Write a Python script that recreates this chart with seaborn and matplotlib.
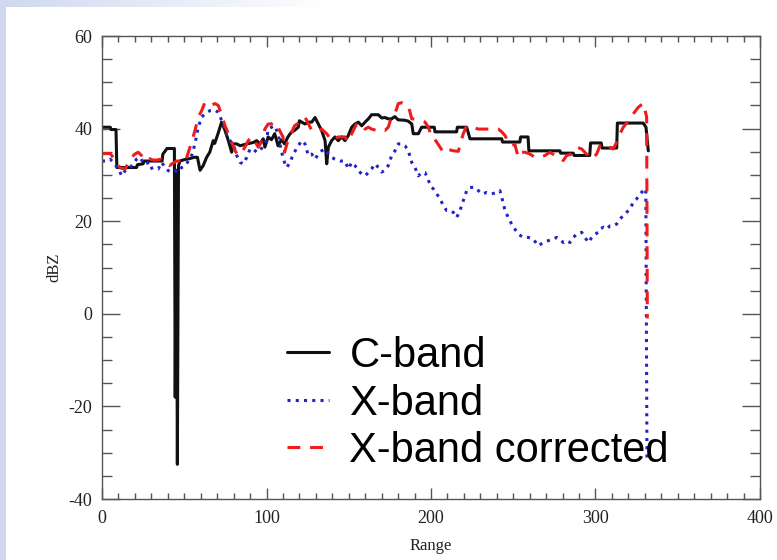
import numpy as np
import pandas as pd
import seaborn as sns
import matplotlib.pyplot as plt
from matplotlib.patches import Rectangle
from matplotlib.colors import LinearSegmentedColormap
from matplotlib.ticker import MultipleLocator

# values (range, dBZ)
c_range = [0, 5, 5.5, 8.5, 9, 21, 21.5, 25, 25.5, 36.5, 37, 39.5, 44, 44.5, 45.2, 45.8, 46.5, 47.4,
           50, 53, 56, 58, 59.6, 61.5, 63.6, 65.5, 67.6, 68.5, 70.5, 72.7, 74.8, 76.8, 78.8, 79.5,
           81.9, 84, 88, 92, 94, 96, 98, 99, 101, 103, 105, 107, 109, 111, 113, 115, 117, 119.3,
           120, 121.4, 123.4, 125.4, 127.5, 129.5, 131.5, 133.5, 135.6, 136.6, 137.6, 139.6, 141.6,
           143.6, 145.7, 147.7, 149.7, 151.8, 153.8, 155.8, 157.9, 159.9, 161.9, 163.9, 168, 170,
           172, 174, 176, 178, 180, 184.2, 186.2, 188.3, 189.2, 192.3, 194.3, 202, 202.4, 215.6,
           216, 221.7, 223.7, 243, 243.5, 254, 254.5, 259, 259.5, 278.4, 278.8, 286.5, 287, 296.5,
           297, 303.5, 304, 312.9, 313.3, 329, 330.7, 332.1]
c_dbz = [40.3, 40.3, 39.8, 39.8, 31.6, 31.6, 32.2, 32.4, 33, 33, 34.5, 35.7, 35.7, -18, 31, -32.5, 32, 33,
         33.3, 33.5, 33.8, 33.8, 31, 32, 33.8, 34.9, 37.4, 36.8, 38.9, 41.4, 39.6, 37.4, 34.9, 36.7,
         36.7, 36.3, 36.7, 37, 37.4, 36.7, 37.8, 36, 38.2, 37.6, 38.9, 36.3, 37.6, 36.7, 38.2, 39.2, 39.6, 40.3,
         41.7, 41.4, 41, 41.4, 41.4, 42.4, 41, 39.6, 37.4, 32.4, 36, 37.4, 38.2,
         37.4, 38.2, 37.4, 38.5, 40.3, 41, 41.4, 40.6, 41.4, 42.1, 43, 43, 42.3,
         42.4, 42.1, 42.1, 42.6, 41.9, 41.8, 41.6, 41, 38.9, 38.9, 40.3, 40.3, 39.3, 39.3,
         40.3, 40.3, 37.8, 37.8, 37.1, 37.1, 38.2, 38.2, 35.2, 35.2, 34.7, 34.7, 34.2, 34.2,
         36.9, 36.9, 35.8, 35.8, 41.2, 41.2, 40.3, 35.2]

x_range = [0, 3, 4.9, 6.9, 9.9, 12, 14, 17, 19, 21, 23, 25, 27.2, 29.2, 31.2, 34.2, 36.3, 38.3, 40.3,
           42.4, 44.4, 46.4, 48.4, 50.5, 52.5, 54.5, 56.5, 58.5, 60.6, 62.6, 65.7, 68.7, 70.7, 72.8,
           74.8, 75.8, 77.8, 79.8, 81.9, 83.9, 85.9, 88, 90, 92, 94, 96, 98, 100, 101, 103, 105, 107,
           109.2, 111.2, 112.3, 114.3, 116.3, 119.3, 121.4, 123.4, 125.4, 127.5, 129.5, 131.5, 133.5,
           135.6, 137.6, 139.6, 141.6, 144.7, 147.7, 149.7, 151.8, 153.8, 155.8, 157.9, 159.9, 161.9,
           163.9, 166, 168, 170, 172, 174, 176.1, 178.1, 180.1, 182.2, 184.2, 186.2, 188.3, 190.3,
           192.3, 194.3, 196.4, 198.4, 200.4, 201.4, 203.5, 205.5, 207.5, 209.5, 211.6, 213.6, 215.6,
           217.6, 219.6, 221.7, 223.7, 226.7, 228.8, 230.8, 233.9, 236.9, 239.9, 241.9, 243, 245, 247,
           249, 251, 253.1, 256.1, 259.2, 262.2, 265.2, 268.3, 271.3, 274.3, 276.4, 278.4, 280.4,
           282.5, 284.5, 286.5, 288.6, 291.6, 293.6, 295.7, 297.7, 299.7, 301.7, 302.7, 304.8, 306.8,
           308.8, 310.8, 312.9, 314.9, 316.9, 318.9, 321, 323, 325, 327, 329.1, 330.6, 331.3]
x_dbz = [33, 33, 33.4, 32.7, 31.3, 29.8, 30.9, 31.6, 32.4, 33.4, 33.8, 32.7, 33, 31.3, 31.6, 31.3, 32.7, 31.6, 30.9,
         30.6, 30.9, 30.6, 31.6, 32, 33, 34.2, 36.7, 40.3, 42.5, 43.2, 43.9, 44, 43.5, 41.7,
         39.9, 38.5, 37.4, 36.7, 34.2, 32.7, 32.4, 33.8, 35.6, 35.6, 34.9, 35.2, 36.3, 37.4, 39.9, 40.3, 40.6, 38.9,
         34.9, 32.4, 31.6, 32.7, 34.5, 36.3, 37.4, 36.7, 34.2, 34.5, 33.4, 34.5, 35.2,
         35.6, 34.5, 33.8, 33.4, 33, 33, 31.3, 32.7, 32, 30.9, 30.2, 29.8, 30.5,
         31.3, 32.4, 31.6, 30.6, 31, 32, 34.2, 35.2, 36.7, 36.7, 36.3, 35.2, 32.7, 31.6,
         29.8, 30.5, 30.5, 28.8, 27.3, 27, 25.9, 24.8, 23.4, 22.3, 22.3, 21.9, 20.8,
         22.3, 24.4, 26.6, 27.3, 27.3, 26.6, 25.9, 26.2, 25.9, 26.2, 26.6, 25.2, 22.3, 20.8,
         19.4, 18.3, 17.2, 16.5, 16.5, 16.1, 14.7, 15.4, 15.8, 16.1, 16.5, 16.1, 15.4,
         15.8, 15.4, 16.5, 17.2, 17.6, 16.5, 15.4, 16.5, 17.2, 17.6, 18.3, 18.7, 18.3,
         19, 19, 19.4, 20.5, 21.2, 21.9, 22.7, 24.1, 24.8, 25.9, 26.6, 27, -32]

xc_range = [0, 5, 7, 9, 11, 14, 16, 18, 20, 22, 24, 27, 29, 31, 33, 36, 38, 41, 43, 45.4, 48.4, 50.5,
            52.5, 54.5, 56.5, 58.6, 60.6, 62.6, 65.7, 68.7, 70.7, 72.8, 74.8, 76.8, 78.8, 80.9, 82.9,
            84.9, 86.9, 88.9, 91, 93, 95, 97.1, 99, 101, 103, 105, 107, 110, 111, 113, 117, 121.4,
            123.4, 125.5, 127.5, 129.5, 133.5, 136.6, 139.6, 143.6, 147.7, 149.7, 151.8, 154.8, 157.9,
            159.9, 161.9, 163.9, 167, 169, 172, 174, 176, 178.1, 180.1, 182.2, 184.2, 186.2, 188.3,
            190.3, 194.3, 196.4, 198.4, 200.4, 201.4, 205.5, 207.5, 209.5, 213.6, 216.6, 219.6, 221.7,
            224.7, 228.8, 234.8, 240.9, 243, 245, 247, 249, 251, 253, 255.1, 257.1, 260.2, 263.2,
            266.3, 269.3, 272.3, 275.4, 278.4, 280.4, 282.5, 285.5, 288.6, 291.6, 294.6, 297.7, 300.7,
            302.7, 304.8, 306.8, 308.8, 310.8, 312.9, 314.9, 316.9, 320, 323, 326, 329.1, 331.1, 331.5]
xc_dbz = [34.6, 34.6, 33.7, 32.6, 31.5, 31.3, 32.5, 33.8, 34.5, 34.9, 34.2, 33, 33.5, 33.2, 33.2, 33.4, 32.7, 32, 32.5, 33, 33, 32.6,
          34.9, 37.1, 39.6, 42.5, 43.9, 45.7, 45, 45.4, 45, 42.8, 40.6, 38.9, 37.1, 35.2, 34.2,
          34.9, 36, 37.4, 38.2, 37.2, 36, 37.4, 39.9, 41, 41, 41.4, 40.3, 38.2, 34.9, 37.4, 40.6, 41.7,
          42.5, 41, 39.6, 39.3, 39.9, 38.9, 37.4, 38.2, 38.2, 37.1, 38.9, 41, 41,
          39.9, 40.3, 39.9, 39.6, 39.9, 39.6, 40.3, 42.5, 43.2, 45.4, 45.6, 45.3, 45, 42.1,
          42.1, 41.7, 41.4, 40.3, 38.2, 38.2, 36, 34.9, 35.6, 35.2, 35.1, 38.9, 40.6,
          40.3, 39.9, 39.9, 39.9, 39.3, 38.5, 37.1, 36.3, 36.6, 33.8, 34.9, 34.9, 34.5, 33.8,
          33.8, 34.2, 34.9, 34.2, 33.8, 33.1, 34.2, 34.5, 36, 35.6, 34.5, 33.4, 34.5,
          36.3, 36.7, 36.7, 36, 35.6, 37.1, 38.9, 40.3, 41.7, 43.2, 44.6, 45.5, 42.5, -1]

band_names = ['C-band', 'X-band', 'X-band corrected']

df = pd.concat([
    pd.DataFrame({'Range': c_range, 'dBZ': c_dbz, 'band': band_names[0]}),
    pd.DataFrame({'Range': x_range, 'dBZ': x_dbz, 'band': band_names[1]}),
    pd.DataFrame({'Range': xc_range, 'dBZ': xc_dbz, 'band': band_names[2]}),
], ignore_index=True)

sns.set_style('ticks')
plt.rcParams['font.family'] = ['Liberation Serif', 'DejaVu Serif']
plt.rcParams['axes.unicode_minus'] = False
plt.rcParams['text.color'] = 'black'

fig = plt.figure(figsize=(7.77, 5.6), dpi=100)

# slide decoration: pale blue strip on the left, fading band on top
fig.patches.append(Rectangle((0, 0), 6 / 777, 1, transform=fig.transFigure,
                             facecolor='#cfd8ef', edgecolor='none', zorder=0))
ax_bg = fig.add_axes([0, 1 - 7 / 560, 330 / 777, 7 / 560])
fade = LinearSegmentedColormap.from_list('fade', ['#cfd8ef', '#ffffff'])
ax_bg.imshow(np.linspace(0, 1, 256)[None, :], cmap=fade, aspect='auto')
ax_bg.axis('off')

ax = fig.add_axes([0.1313, 0.1089, 0.8468, 0.8268])
palette = {'C-band': '#111111', 'X-band': '#2323c8', 'X-band corrected': '#ee1c1c'}
dashes = {'C-band': '', 'X-band': (1, 1.7), 'X-band corrected': (4.2, 3.2)}
sns.lineplot(data=df, x='Range', y='dBZ', hue='band', style='band', palette=palette,
             dashes=dashes, estimator=None, sort=False, lw=2.2, legend=False, ax=ax)

ax.set_xlim(0, 400)
ax.set_ylim(-40, 60)
ax.xaxis.set_major_locator(MultipleLocator(100))
ax.xaxis.set_minor_locator(MultipleLocator(10))
ax.yaxis.set_major_locator(MultipleLocator(20))
ax.yaxis.set_minor_locator(MultipleLocator(5))
ax.tick_params(axis='both', which='both', direction='in', top=True, right=True,
               color='#555555', width=1, labelsize=13, labelcolor='#222222')
ax.tick_params(axis='x', which='major', length=8, pad=8)
ax.tick_params(axis='x', which='minor', length=4)
ax.tick_params(axis='y', which='major', length=13, pad=7)
ax.tick_params(axis='y', which='minor', length=7)
for s in ax.spines.values():
    s.set_color('#555555')
    s.set_linewidth(1)
ax.set_xlabel('Range', fontsize=12, labelpad=8, color='#222222')
ax.set_ylabel('dBZ', fontsize=12, color='#222222')
ax.yaxis.set_label_coords(-0.061, 0.5)

leg = ax.legend(ax.get_lines()[:3], band_names, loc='upper left',
                bbox_to_anchor=(0.281, 0.352), frameon=False, borderpad=0,
                borderaxespad=0, handlelength=1.0, handletextpad=0.5,
                labelspacing=0.18, prop={'family': 'Liberation Sans', 'size': 30})
for t in leg.get_texts():
    t.set_color('black')

fig.savefig('out.png', dpi=100)
